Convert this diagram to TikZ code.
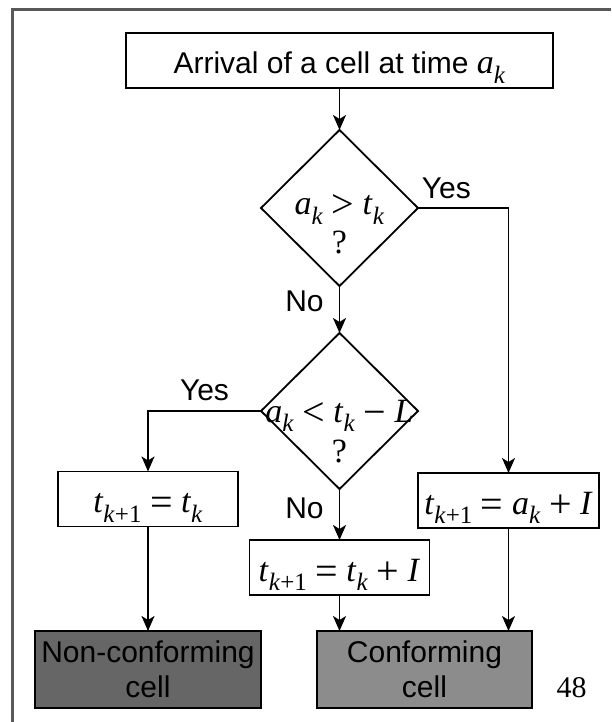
\documentclass[tikz,border=0pt]{standalone}
\usepackage{fontspec}
\setmainfont{Liberation Sans}
\newfontfamily\mathserif{Liberation Serif}
\usetikzlibrary{positioning,shapes.geometric,arrows.meta}

\definecolor{darkcell}{HTML}{666666}
\definecolor{lightcell}{HTML}{8C8C8C}
\definecolor{framegray}{HTML}{595959}

% formula pieces: Times-like italic letters, large lowered subscripts
\newcommand{\mvar}[1]{\textit{#1}}
\newcommand{\lowsub}[1]{\raisebox{-9.5pt}{\fontsize{25}{25}\selectfont #1}}
\newcommand{\mop}[1]{\raisebox{-3pt}{\fontsize{40}{40}\selectfont #1}}
\newcommand{\formula}[1]{{\mathserif\fontsize{34}{40}\selectfont #1}}

\begin{document}
\begin{tikzpicture}[x=1pt, y=-1pt,
    every node/.style={font=\fontsize{30}{35}\selectfont},
    box/.style={draw, line width=1.8pt, inner sep=0pt, outer sep=0pt,
        minimum width=180pt, minimum height=55pt, align=center,
        text height=28pt, text depth=1pt},
    endbox/.style={draw, line width=1.8pt, inner sep=0pt, outer sep=0pt,
        minimum height=77pt, align=center},
    decision/.style={draw, diamond, line width=1.8pt, inner sep=0pt, outer sep=0pt,
        minimum width=157pt, minimum height=156pt},
    lbl/.style={inner sep=0pt},
    arr/.style={line width=1.8pt, -{Stealth[length=15pt, width=13pt, inset=4pt]}}]
\useasboundingbox (0,0) rectangle (611,722);
\draw[framegray, line width=2.5pt] (12.5,722) |- (611,9.5);

\node[box, minimum width=427pt] (arrival) at (339.5,60.5)
    {Arrival of a cell at time \formula{\mvar{a}\lowsub{\mvar{k}}}};
\node[decision, below=42pt of arrival] (gt) {};
\node[anchor=base] (gtexpr) at ([yshift=-6.5pt]gt.center)
    {\formula{\mvar{a}\lowsub{\mvar{k}} \mop{>} \mvar{t}\lowsub{\mvar{k}}}};
\node[anchor=base] (gtq) at ([yshift=-45.5pt]gt.center) {\formula{?}};
\draw[arr] (arrival) -- (gt);

\node[decision, below=47pt of gt] (lt) {};
\node[anchor=base] (ltexpr) at ([yshift=-11pt]lt.center)
    {\formula{\mvar{a}\lowsub{\mvar{k}} \mop{<} \mvar{t}\lowsub{\mvar{k}} \mop{−} \mvar{L}}};
\node[anchor=base] (ltq) at ([yshift=-51pt]lt.center) {\formula{?}};
\draw[arr] (gt) -- node[lbl, left=15pt, pos=0.33] (no1) {No} (lt);

\node[box] (keep) at (148,499)
    {\formula{\mvar{t}\lowsub{\mvar{k}+1} \mop{=} \mvar{t}\lowsub{\mvar{k}}}};
\node[box, below=51pt of lt] (upd)
    {\formula{\mvar{t}\lowsub{\mvar{k}+1} \mop{=} \mvar{t}\lowsub{\mvar{k}} \mop{+} \mvar{I}}};
\node[box, minimum width=181pt] (reset) at (508.5,500.5)
    {\formula{\mvar{t}\lowsub{\mvar{k}+1} \mop{=} \mvar{a}\lowsub{\mvar{k}} \mop{+} \mvar{I}}};
\draw[arr] (gt.east) -| node[lbl, above=8pt, pos=0.157] (yes1) {Yes} (reset.north);
\draw[arr] (lt.west) -| node[lbl, above=9pt, pos=0.25] (yes2) {Yes} (keep.north);
\draw[arr] (lt) -- node[lbl, left=15pt, pos=0.37] (no2) {No} (upd);

\node[endbox, fill=darkcell, minimum width=226pt] (noncon) at (148,669.5) {Non-conforming\\cell};
\node[endbox, fill=lightcell, minimum width=215pt] (conf) at (424.5,669.5) {Conforming\\cell};
\draw[arr] (keep) -- (noncon);
\draw[arr] (upd) -- (conf.north -| upd);
\draw[arr] (reset) -- (conf.north -| reset);

\node[anchor=base] (pagenum) at (571.5,697) {\formula{\fontsize{30}{35}\selectfont 48}};
\end{tikzpicture}
\end{document}
